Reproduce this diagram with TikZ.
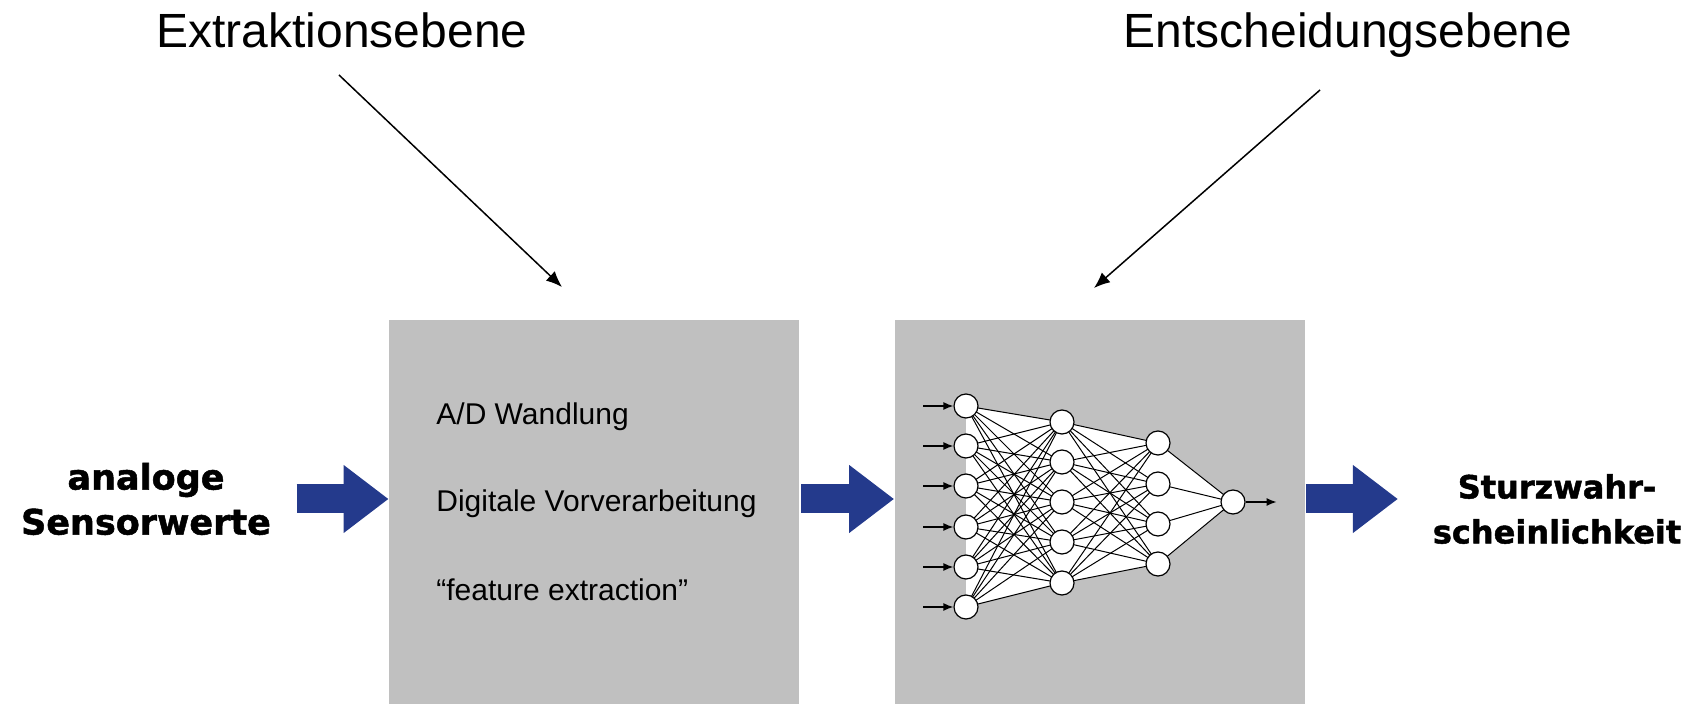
\documentclass[tikz,border=0pt]{standalone}
\usepackage{fontspec}
\setmainfont{Liberation Sans}
\newfontfamily\heavyfont{DejaVu Sans}[BoldFeatures={FakeBold=1.5}]
\usetikzlibrary{arrows.meta}

\definecolor{boxgray}{RGB}{192,192,192}
\definecolor{arrowblue}{RGB}{36,58,140}

\tikzstyle{graybox} = [fill=boxgray, inner sep=0, minimum width=205pt, minimum height=192pt]
\tikzstyle{neuron} = [draw, fill=white, circle, inner sep=0, minimum size=12pt, line width=0.6pt]
\tikzstyle{edge} = [line width=0.5pt]
\tikzstyle{levelname} = [anchor=base, inner sep=0, font=\fontsize{24}{28}\selectfont]
\tikzstyle{boxtext} = [anchor=base west, inner sep=0, font=\fontsize{15}{18}\selectfont]
\tikzset{heavylabel/.style={align=center, inner sep=0, font=\heavyfont\bfseries\fontsize{#1}{22.5}\selectfont}}
\tikzstyle{blockarrow} = [arrowblue, line width=14.5pt, -{Triangle[length=22.5pt, width=32.5pt]}]
\tikzstyle{pointer} = [line width=0.75pt, -{Latex[length=8pt, width=6.5pt]}]
\tikzstyle{signal} = [line width=0.75pt, -{Latex[length=5pt, width=4pt]}]

\begin{document}
\begin{tikzpicture}[x=0.5pt, y=-0.5pt]
      \useasboundingbox (0,0) rectangle (1686,704);

      % the two levels
      \node[graybox] (extbox) at (594, 512) {};
      \node[graybox] (decbox) at (1099.5, 512) {};
      \node[levelname] (extr) at (342, 48) {Extraktionsebene};
      \node[levelname] (decs) at (1348, 48) {Entscheidungsebene};

      \coordinate (exfrom) at (339, 75);
      \coordinate (exto) at (562, 287);
      \coordinate (defrom) at (1320, 90);
      \coordinate (deto) at (1094, 288);
      \draw[pointer] (exfrom) -- (exto);
      \draw[pointer] (defrom) -- (deto);

      % extraction steps
      \node[boxtext] (adconv) at (436, 425) {A/D Wandlung};
      \node[boxtext] (preproc) at (436, 512) {Digitale Vorverarbeitung};
      \node[boxtext] (features) at (436, 601) {“feature extraction”};

      % in and out
      \node[heavylabel=17.5] (sensor) at (146, 499) {analoge\\Sensorwerte};
      \node[heavylabel=16] (prob) at (1557, 509) {Sturzwahr-\\scheinlichkeit};

      \draw[blockarrow] ([xshift=-46pt, yshift=6.5pt]extbox.west) -- ([yshift=6.5pt]extbox.west);
      \draw[blockarrow, shorten <=1pt] ([yshift=6.5pt]extbox.east) -- ([yshift=6.5pt]decbox.west);
      \draw[blockarrow, shorten <=0.5pt] ([yshift=6.5pt]decbox.east) -- ++(46.5pt, 0);

      % network
      \foreach \i/\y in {1/406, 2/446, 3/486, 4/527, 5/567, 6/607}
        \coordinate (in\i) at (966, \y);
      \foreach \i/\y in {1/422, 2/462, 3/502, 4/542, 5/583}
        \coordinate (ha\i) at (1062, \y);
      \foreach \i/\y in {1/443, 2/484, 3/524, 4/564}
        \coordinate (hb\i) at (1158, \y);
      \coordinate (out) at (1233, 502);

      \fill[white] (in1) -- (ha1) -- (hb1) -- (out) -- (hb4) -- (ha5) -- (in6) -- cycle;
      \foreach \i in {1,...,6}
        \foreach \j in {1,...,5}
          \draw[edge] (in\i) -- (ha\j);
      \foreach \i in {1,...,5}
        \foreach \j in {1,...,4}
          \draw[edge] (ha\i) -- (hb\j);
      \foreach \j in {1,...,4}
        \draw[edge] (hb\j) -- (out);

      \foreach \i in {1,...,6} {
        \node[neuron] (nin\i) at (in\i) {};
        \draw[signal] ([xshift=-15pt]nin\i.west) -- (nin\i.west);
      }
      \foreach \i in {1,...,5}
        \node[neuron] (nha\i) at (ha\i) {};
      \foreach \i in {1,...,4}
        \node[neuron] (nhb\i) at (hb\i) {};
      \node[neuron] (nout) at (out) {};
      \draw[signal] (nout.east) -- ++(31, 0);
\end{tikzpicture}
\end{document}
